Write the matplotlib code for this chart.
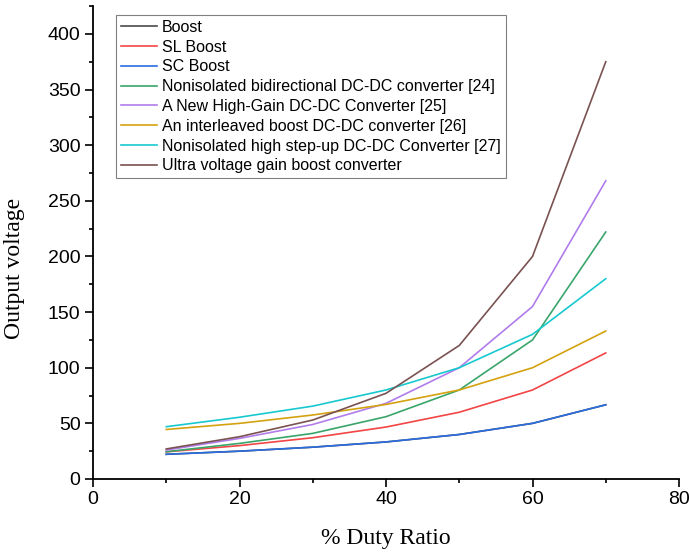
import matplotlib
matplotlib.use('Agg')
import matplotlib.pyplot as plt
from matplotlib.ticker import MultipleLocator

# duty ratio (%)
duty = [10, 20, 30, 40, 50, 60, 70]

# output voltage for each converter
boost = [22.2, 25, 28.6, 33.3, 40, 50, 66.7]
sl_boost = [24.4, 30, 37.1, 46.7, 60, 80, 113.3]
sc_boost = [22.2, 25, 28.6, 33.3, 40, 50, 66.7]
conv_24 = [24.5, 32, 41, 56, 80, 125, 222]
conv_25 = [26, 36.5, 49, 68, 100, 155, 268]
conv_26 = [44.5, 50, 57.5, 67, 80, 100, 133]
conv_27 = [47, 55.5, 65.5, 80, 100, 130, 180]
ultra = [27, 38, 53, 77, 120, 200, 375]

labels = ['Boost', 'SL Boost', 'SC Boost',
          'Nonisolated bidirectional DC-DC converter [24]',
          'A New High-Gain DC-DC Converter [25]',
          'An interleaved boost DC-DC converter [26]',
          'Nonisolated high step-up DC-DC Converter [27]',
          'Ultra voltage gain boost converter']
colors = ['#4a4a4a', '#f24545', '#2a6de0', '#3aa56a',
          '#b07ceb', '#d4a20f', '#17c9cf', '#7a5252']
series = [boost, sl_boost, sc_boost, conv_24, conv_25, conv_26, conv_27, ultra]

plt.rcParams['font.family'] = ['Liberation Sans', 'DejaVu Sans']

fig = plt.figure(figsize=(6.89, 5.56), dpi=100)
ax = fig.add_axes([0.135, 0.1385, 0.8505, 0.8505])

for i, (vals, lab, col) in enumerate(zip(series, labels, colors)):
    # boost sits underneath the SC boost curve
    z = 1.5 if i == 0 else 2
    ax.plot(duty, vals, color=col, lw=1.2, label=lab, zorder=z)

ax.set_xlim(0, 80)
ax.set_ylim(0, 425)
ax.xaxis.set_major_locator(MultipleLocator(20))
ax.xaxis.set_minor_locator(MultipleLocator(10))
ax.yaxis.set_major_locator(MultipleLocator(50))
ax.yaxis.set_minor_locator(MultipleLocator(25))

for side in ['top', 'right']:
    ax.spines[side].set_visible(False)
for side in ['left', 'bottom']:
    ax.spines[side].set_linewidth(1.3)

ax.tick_params(which='major', length=5.5, width=1.2, labelsize=14, direction='out')
ax.tick_params(which='minor', length=3, width=1.2, direction='out')

ax.set_xlabel('% Duty Ratio', family='Liberation Serif', fontsize=17, labelpad=14)
ax.set_ylabel('Output voltage', family='Liberation Serif', fontsize=17)
ax.yaxis.set_label_coords(-0.116, 0.446)

leg = ax.legend(loc='upper left', bbox_to_anchor=(0.039, 0.981), borderaxespad=0,
                fontsize=11.5, labelspacing=0.3, handlelength=2.3, handletextpad=0.3,
                borderpad=0.3, fancybox=False, edgecolor='#808080', framealpha=1)
leg.get_frame().set_linewidth(0.8)

fig.savefig('out.png', dpi=100)
